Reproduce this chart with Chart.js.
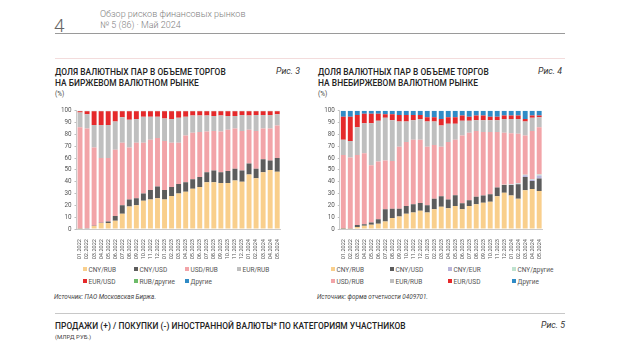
<!DOCTYPE html>
<html><head><meta charset="utf-8">
<script src="https://cdn.jsdelivr.net/npm/chart.js@4/dist/chart.umd.min.js"></script>
<style>
html,body{margin:0;padding:0;background:#fff;}
body{width:620px;height:355px;position:relative;overflow:hidden;font-family:Roboto,"Noto Sans",sans-serif;color:#333;}
.abs{position:absolute;white-space:nowrap;}
.hdr{font-size:9px;color:#808080;line-height:11px;font-weight:300;}
.ttl{font-size:8.4px;font-weight:500;color:#222;line-height:10.5px;letter-spacing:0.05px;}
.fig{font-size:8.8px;font-style:italic;color:#333;}
.unit{font-size:6.5px;color:#444;}
.src{font-size:6.3px;font-style:italic;color:#444;}
.leg{font-size:6.5px;color:#555;line-height:8px;}
.leg i{display:inline-block;width:4px;height:4px;margin-right:1.5px;vertical-align:1px;}
canvas{position:absolute;}
</style></head><body>
<div class="abs" style="left:54px;top:14px;font-size:19px;font-weight:300;color:#666;">4</div>
<div class="abs hdr" style="left:100px;top:9px;">Обзор рисков финансовых рынков<br>№ 5 (86) · Май 2024</div>
<div class="abs" style="left:55px;top:33px;width:510px;height:1px;background:#9a9a9a;"></div>
<div class="abs" style="left:55px;top:58px;width:510px;height:1px;background:#f3dcdc;"></div>

<div class="abs ttl" style="left:55px;top:67px;">ДОЛЯ ВАЛЮТНЫХ ПАР В ОБЪЕМЕ ТОРГОВ<br>НА БИРЖЕВОМ ВАЛЮТНОМ РЫНКЕ</div>
<div class="abs fig" style="left:276px;top:66px;">Рис. 3</div>
<div class="abs unit" style="left:55px;top:90px;">(%)</div>

<div class="abs ttl" style="left:318px;top:67px;">ДОЛЯ ВАЛЮТНЫХ ПАР В ОБЪЕМЕ ТОРГОВ<br>НА ВНЕБИРЖЕВОМ ВАЛЮТНОМ РЫНКЕ</div>
<div class="abs fig" style="left:538px;top:66px;">Рис. 4</div>
<div class="abs unit" style="left:318px;top:90px;">(%)</div>

<canvas id="c3" width="236" height="160" style="left:50px;top:104px;"></canvas>
<canvas id="c4" width="236" height="160" style="left:312px;top:104px;"></canvas>

<div id="leg3"></div>
<div id="leg4"></div>

<div class="abs src" style="left:54px;top:293px;">Источник: ПАО Московская Биржа.</div>
<div class="abs src" style="left:317px;top:293px;">Источник: форма отчетности 0409701.</div>

<div class="abs" style="left:55px;top:313px;width:510px;height:1px;background:#c8c8c8;"></div>
<div class="abs ttl" style="left:55px;top:321px;">ПРОДАЖИ (+) / ПОКУПКИ (-) ИНОСТРАННОЙ ВАЛЮТЫ* ПО КАТЕГОРИЯМ УЧАСТНИКОВ</div>
<div class="abs fig" style="left:541px;top:320px;">Рис. 5</div>
<div class="abs unit" style="left:55px;top:333px;font-size:6px;">(МЛРД РУБ.)</div>

<script>
// ---- categories ----
const months = ["01.2022","02.2022","03.2022","04.2022","05.2022","06.2022","07.2022","08.2022","09.2022","10.2022","11.2022","12.2022",
"01.2023","02.2023","03.2023","04.2023","05.2023","06.2023","07.2023","08.2023","09.2023","10.2023","11.2023","12.2023",
"01.2024","02.2024","03.2024","04.2024","05.2024"];
const yTicks = [0,10,20,30,40,50,60,70,80,90,100];

// ---- Рис. 3: exchange market shares (%) ----
const cnyRub3 = [0.3,0.5,2.5,5,5,7,13,19,20,24,25,26,25,28,30,31.5,34,35.5,39.5,39.5,39,39,41,40,46,43,48,50,48.5];
const cnyUsd3 = [0.2,0.2,0.2,0.3,1.3,4,7,6,6,6,8,10,8,7.5,8,8,8,8.5,8.5,10,9,10,10,9.5,9.5,8,11,8,11.5];
const usdRub3 = [85.5,84.3,66.3,54.7,53.7,56,53,44,47,43,42.5,41,41.5,37.5,35,39.5,39.5,38,34.5,33.5,34.5,35,34,33.5,28.5,32,26,27,27.5];
const eurRub3 = [12.5,12,19,28,28,24,21.5,23.5,20,22,19.5,18,19,20,21,16,14.5,14,13.5,12.5,13.5,11.5,10.5,13.5,12,13.5,11.5,11.5,9.5];
const eurUsd3 = [1,2.5,11.5,11.5,11.5,8.5,5,7,6.5,4.5,4.5,4.5,6,6.5,5.5,4.5,3.5,3.5,3.5,4,3.5,4,4,3,3.5,3,3,3,2.5];
const rubOth3 = [0.3,0.3,0.3,0.3,0.3,0.3,0.3,0.3,0.3,0.3,0.3,0.3,0.3,0.3,0.3,0.3,0.3,0.3,0.3,0.3,0.3,0.3,0.3,0.3,0.3,0.3,0.3,0.3,0.3];
const other3  = [0.2,0.2,0.2,0.2,0.2,0.2,0.2,0.2,0.2,0.2,0.2,0.2,0.2,0.2,0.2,0.2,0.2,0.2,0.2,0.2,0.2,0.2,0.2,0.2,0.2,0.2,0.2,0.2,0.2];

// ---- Рис. 4: OTC market shares (%) ----
const cnyRub4 = [0.3,0.3,1.7,2.8,3.6,4.4,6.4,9.2,10.5,12.8,13.9,15.5,13.9,16.7,18.9,17.5,19.4,16.7,19.4,21,22.2,23,27.8,30.6,28.3,25.6,32.8,33.9,32.2];
const cnyUsd4 = [0.3,0.2,1.6,1.2,1.9,3.9,10.3,8,6.7,6.6,7.1,6.5,6.1,8.9,8.9,7.5,9.2,5,5,6.2,6.1,6.4,7.2,6.6,8.9,12.2,11.1,6.7,10.6];
const cnyEur4 = [0,0,0,0,0,0,0,0,0,0,0,0,0,0,0,0,0,0,0,0,0,0,0,0,0.3,0.5,1.5,1,2.5];
const cnyOth4 = [0,0,0,0,0,0,0,0,0,0,0,0,0,0,0,0,0,0,0,0,0,0,0.2,0.2,0.3,0.3,0.5,0.5,0.7];
const usdRub4 = [61.9,60,59.2,60,48.5,48.7,41.3,40.3,52.3,54.1,54.5,53.5,49.5,45.4,41.7,48.5,46.9,57.3,57.1,55.8,53.7,52.6,46.8,44.1,43.2,41.9,33.1,40.9,40];
const eurRub4 = [13,14,23.5,25.5,35.5,34.5,36,34.5,21.5,17.5,16.5,17.5,21.5,20,18,15.5,13.5,12.5,10,9,10,10,10,11.5,12,12.5,12,11,8.5];
const eurUsd4 = [19.5,20.5,10.5,8,8,6,3,5,5.5,5.5,4.5,3.5,3.5,3.5,5.5,5.5,5.5,4.5,3.5,4,4,3,3,3,3,3,2,2,1.5];
const other4  = [5,5,3.5,2.5,2.5,2.5,3,3,3.5,3.5,3.5,3.5,5.5,5.5,7,5.5,5.5,4,5,4,4,5,5,4,4,4,7,4,4];

const C = {cnyRub:"#f9cf8c", cnyUsd:"#5c5c5c", cnyEur:"#b9b5da", cnyOth:"#bfe2cf", usdRub:"#f2a4a8",
           eurRub:"#bfbfbf", eurUsd:"#e5292b", rubOth:"#6dbb6a", other:"#2f8bc6"};

function ds(label, data, color){ return {label, data, backgroundColor:color, borderWidth:0, barPercentage:0.7, categoryPercentage:1}; }

const sets3 = [
  ds("CNY/RUB", cnyRub3, C.cnyRub), ds("CNY/USD", cnyUsd3, C.cnyUsd), ds("USD/RUB", usdRub3, C.usdRub),
  ds("EUR/RUB", eurRub3, C.eurRub), ds("EUR/USD", eurUsd3, C.eurUsd), ds("RUB/другие", rubOth3, C.rubOth),
  ds("Другие", other3, C.other)];
const sets4 = [
  ds("CNY/RUB", cnyRub4, C.cnyRub), ds("CNY/USD", cnyUsd4, C.cnyUsd), ds("CNY/EUR", cnyEur4, C.cnyEur),
  ds("CNY/другие", cnyOth4, C.cnyOth), ds("USD/RUB", usdRub4, C.usdRub), ds("EUR/RUB", eurRub4, C.eurRub),
  ds("EUR/USD", eurUsd4, C.eurUsd), ds("Другие", other4, C.other)];

function makeChart(id, sets, yw, rp){
  return new Chart(document.getElementById(id), {
    type:"bar",
    data:{labels:months, datasets:sets},
    options:{
      responsive:false, animation:false, devicePixelRatio:1,
      layout:{padding:{top:6,right:rp,left:0,bottom:0}},
      plugins:{legend:{display:false}, tooltip:{enabled:false}},
      scales:{
        x:{stacked:true, offset:true,
           grid:{display:false},
           border:{display:true,color:"#bdbdbd",width:0.8},
           ticks:{minRotation:90,maxRotation:90,autoSkip:false,padding:2,color:"#555",font:{family:"Roboto",size:5.6}},
           afterFit:(s)=>{s.height=35;}},
        y:{stacked:true, min:0, max:100,
           afterBuildTicks:(s)=>{s.ticks=yTicks.map(v=>({value:v}));},
           grid:{drawOnChartArea:false, drawTicks:true, tickLength:2, color:"#bdbdbd"},
           border:{display:true,color:"#bdbdbd",width:0.8},
           ticks:{padding:3,color:"#555",font:{family:"Roboto",size:6.3}},
           afterFit:(s)=>{s.width=yw;}}
      }
    }
  });
}
makeChart("c3", sets3, 26.5, 3.8);
makeChart("c4", sets4, 27.8, 5.2);

function legend(id, sets, cols, left, rowsTop){
  const host = document.getElementById(id);
  sets.forEach((d,i)=>{
    const el = document.createElement("div");
    el.className = "abs leg";
    el.style.left = (left + cols[i % cols.length]) + "px";
    el.style.top = (rowsTop + Math.floor(i/cols.length)*12) + "px";
    el.innerHTML = '<i style="background:'+d.backgroundColor+'"></i>'+d.label;
    host.appendChild(el);
  });
}
legend("leg3", sets3, [0,51,102,154], 83, 266);
legend("leg4", sets4, [0,59,117,181], 331, 266);
</script>
</body></html>
